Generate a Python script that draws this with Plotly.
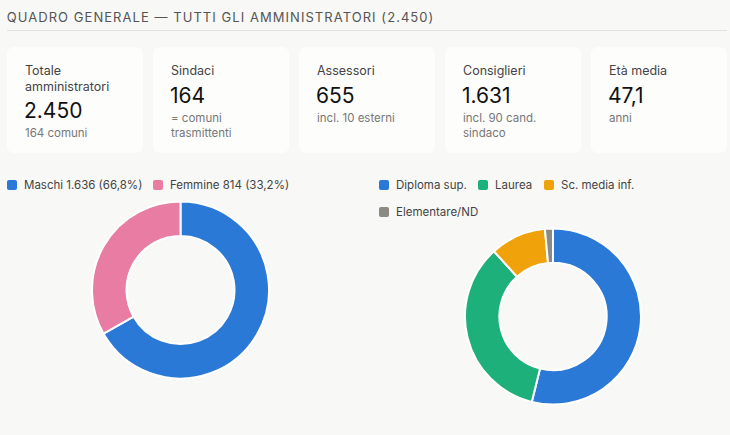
import plotly.graph_objects as go

# data
title = "QUADRO GENERALE — TUTTI GLI AMMINISTRATORI (2.450)"

card_labels = ["Totale<br>amministratori", "Sindaci", "Assessori", "Consiglieri", "Età media"]
card_values = ["2.450", "164", "655", "1.631", "47,1"]
card_notes = ["164 comuni", "= comuni<br>trasmittenti", "incl. 10 esterni", "incl. 90 cand.<br>sindaco", "anni"]

sex_labels = ["Maschi", "Femmine"]
sex_values = [1636, 814]
sex_legend = ["Maschi 1.636 (66,8%)", "Femmine 814 (33,2%)"]
sex_colors = ["#2b79d6", "#e87ca3"]

edu_labels = ["Diploma sup.", "Laurea", "Sc. media inf.", "Elementare/ND"]
edu_values = [1320, 843, 251, 36]
edu_colors = ["#2b79d6", "#1db07b", "#f0a20a", "#8b8b83"]

W, H = 730, 435
BG = "#f8f8f6"
CARD = "#fdfdfc"
FONT = "Inter"

fig = go.Figure()

# donuts
fig.add_trace(go.Pie(
    labels=sex_labels, values=sex_values,
    marker=dict(colors=sex_colors, line=dict(color="white", width=2)),
    hole=0.61, sort=False, direction="clockwise", rotation=0,
    textinfo="none", hoverinfo="label+value", showlegend=False,
    domain=dict(x=[92 / W, 269 / W], y=[1 - 378.5 / H, 1 - 201.5 / H]),
))
fig.add_trace(go.Pie(
    labels=edu_labels, values=edu_values,
    marker=dict(colors=edu_colors, line=dict(color="white", width=2)),
    hole=0.61, sort=False, direction="clockwise", rotation=0,
    textinfo="none", hoverinfo="label+value", showlegend=False,
    domain=dict(x=[465 / W, 641 / W], y=[1 - 404.5 / H, 1 - 228.5 / H]),
))


def rrect(x0, y0, x1, y1, r):
    return (f"M{x0+r},{y0} L{x1-r},{y0} Q{x1},{y0} {x1},{y0+r} "
            f"L{x1},{y1-r} Q{x1},{y1} {x1-r},{y1} L{x0+r},{y1} "
            f"Q{x0},{y1} {x0},{y1-r} L{x0},{y0+r} Q{x0},{y0} {x0+r},{y0} Z")


shapes = []
annotations = []

# header (centred so the extra letter spacing grows evenly both ways)
annotations.append(dict(x=220, y=17, text=title, showarrow=False, xanchor="center", yanchor="middle",
                        font=dict(family=FONT, size=13, color="#555555")))
shapes.append(dict(type="line", x0=7, x1=727, y0=30.5, y1=30.5, xref="x", yref="y",
                   line=dict(color="#e2e2de", width=1)))

# cards
card_x = [7, 153, 299, 445, 591]
card_w = 136
for i, x in enumerate(card_x):
    shapes.append(dict(type="path", path=rrect(x, 47, x + card_w, 153, 8), xref="x", yref="y",
                       fillcolor=CARD, line=dict(width=0), layer="below"))
    nl = card_labels[i].count("<br>")
    annotations.append(dict(x=x + 16, y=61, text=card_labels[i], showarrow=False,
                            xanchor="left", yanchor="top", align="left",
                            font=dict(family=FONT, size=12.5, color="#444444")))
    yb = 95 + 15 * nl
    annotations.append(dict(x=x + 15, y=yb, text=card_values[i], showarrow=False,
                            xanchor="left", yanchor="middle",
                            font=dict(family=FONT, size=21, color="#111111")))
    annotations.append(dict(x=x + 16, y=yb + 14, text=card_notes[i], showarrow=False,
                            xanchor="left", yanchor="top", align="left",
                            font=dict(family=FONT, size=11.5, color="#777777")))

# legends
sex_pos = [(7, 185), (153, 185)]
edu_pos = [(379, 185), (478, 185), (544, 185), (379, 212)]
for names, cols, pos in [(sex_legend, sex_colors, sex_pos), (edu_labels, edu_colors, edu_pos)]:
    for name, col, (lx, ly) in zip(names, cols, pos):
        shapes.append(dict(type="path", path=rrect(lx, ly - 5, lx + 10, ly + 5, 2), xref="x", yref="y",
                           fillcolor=col, line=dict(width=0)))
        annotations.append(dict(x=lx + 15, y=ly, text=name, showarrow=False,
                                xanchor="left", yanchor="middle",
                                font=dict(family=FONT, size=11.5, color="#444444")))

fig.update_layout(
    width=W, height=H,
    margin=dict(l=0, r=0, t=0, b=0),
    paper_bgcolor=BG, plot_bgcolor=BG,
    xaxis=dict(range=[0, W], visible=False, fixedrange=True, domain=[0, 1]),
    yaxis=dict(range=[H, 0], visible=False, fixedrange=True, domain=[0, 1]),
    shapes=shapes, annotations=annotations,
    showlegend=False,
)

# page without body margin, spaced-out header like the original
js = """
document.body.style.margin = '0';
document.body.style.background = '%s';
var t = document.querySelector('.annotation-text');
if (t) { t.style.letterSpacing = '1.05px'; }
""" % BG

fig.write_html("out.html", post_script=js, config={"displayModeBar": False})
